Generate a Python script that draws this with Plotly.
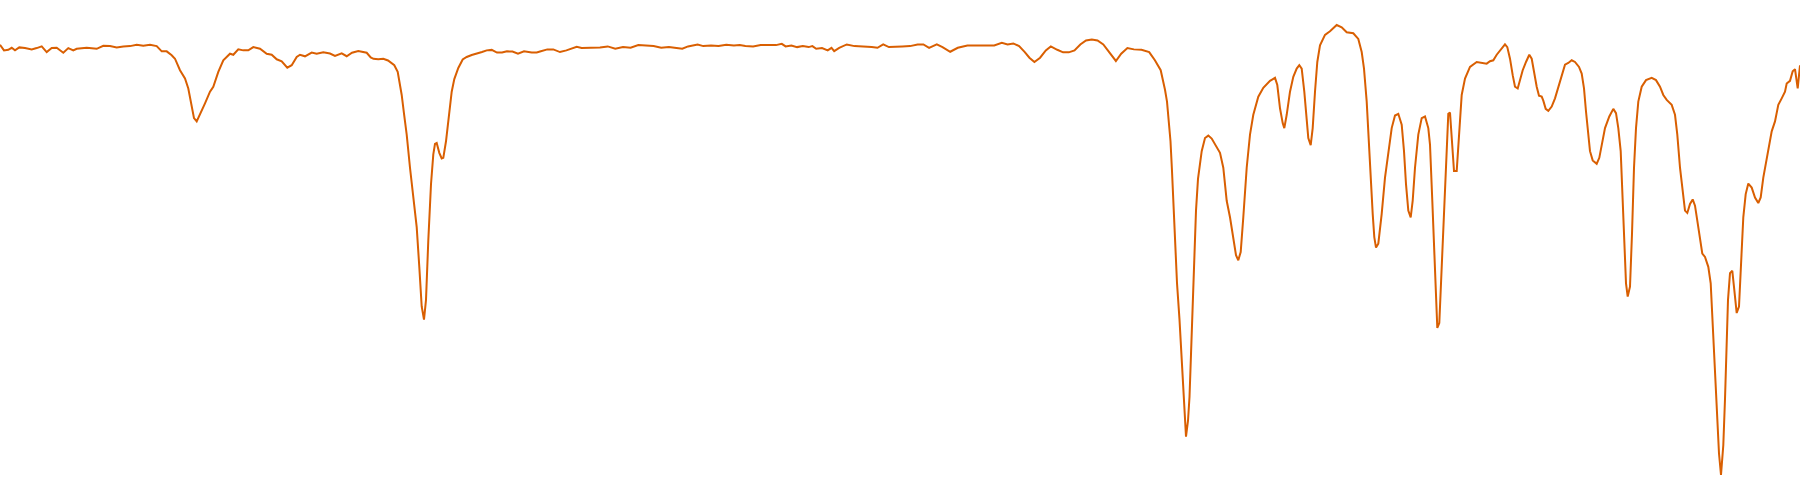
import plotly.graph_objects as go

# Wavenumber (cm^-1) and transmittance (%)
wavenumber = [
    4000, 3992, 3983.4, 3976.6, 3970, 3961.4, 3950, 3936.6, 3926.6, 3916.6,
    3906.6, 3896.6, 3886.6, 3873.4, 3863.4, 3853.4, 3846.6, 3826.6, 3806.6, 3793.4,
    3780, 3766.6, 3753.4, 3740, 3726.6, 3713.4, 3700, 3686.6, 3676.6, 3666.6,
    3656.6, 3650, 3640, 3630, 3623.4, 3616.6, 3612, 3606.6, 3600, 3590,
    3580, 3573.4, 3563.4, 3553.4, 3540, 3533.4, 3523.4, 3513.4, 3503.4, 3493.4,
    3480, 3466.6, 3456.6, 3446.6, 3436.6, 3425.4, 3416.6, 3406.6,
    3400, 3390, 3376.6, 3366.6, 3353.4, 3340, 3330, 3316.6, 3306.6, 3296,
    3283.4, 3266.6, 3258.6, 3253, 3243.4, 3233.4, 3224, 3216, 3211.4, 3204.6,
    3201, 3196.6, 3192, 3186.6, 3180, 3173.4, 3166.6, 3161.4, 3156.6, 3152,
    3148, 3143.4, 3138, 3133.4, 3130, 3126.6, 3121.4, 3116.6, 3113.4, 3108,
    3102, 3096.6, 3091.4, 3083.4, 3074.6, 3066.6, 3056.6, 3046, 3036, 3026.6,
    3016.6, 3006, 2996, 2986, 2975, 2964, 2952, 2936.6, 2926.6, 2920,
    2905.4, 2893.4, 2880, 2867.2, 2858, 2846.6, 2836.6, 2826.6, 2814, 2800,
    2784.6, 2769.4, 2754, 2738.8, 2723.4, 2708.2, 2692.8, 2677.6, 2662.2, 2647,
    2635.4, 2624, 2604.8, 2593.4, 2578, 2562.8, 2547.4, 2532.2, 2520.6, 2509.2,
    2493.8, 2478.6, 2463.2, 2448, 2436.4, 2428.8, 2417.2, 2405.8, 2394.4, 2382.8,
    2375.2, 2367.6, 2356, 2344.6, 2337, 2331.6, 2321.6, 2306.4, 2291, 2271.8,
    2256.6, 2245, 2233.6, 2222.2, 2206.8, 2195.4, 2180, 2164.8, 2153.2, 2141.8,
    2126.4, 2115, 2099.6, 2084.4, 2065.2, 2042.2, 2027, 2011.6, 1996.4, 1984.8,
    1973.4, 1961.8, 1950.4, 1941.2, 1931.2, 1919.8, 1908.4, 1898.4, 1885.4, 1873.8,
    1862.4, 1851, 1839.4, 1828, 1816.4, 1805, 1793.4, 1782, 1768.2, 1757.6,
    1745.2, 1732.2, 1717, 1701.6, 1690.2, 1678.6,
    1674, 1670, 1666, 1662, 1659, 1656, 1653, 1650, 1646, 1641,
    1636, 1632, 1628, 1624, 1621, 1618, 1614, 1611, 1608, 1604, 1600,
    1596.6, 1590, 1583.4, 1576.6, 1570, 1560, 1553.4, 1546.6, 1540, 1533.4,
    1528, 1523.4, 1518.6, 1513.4, 1506.6, 1500, 1493.4, 1483.4, 1473.4, 1460,
    1450, 1445.4, 1440, 1434.6, 1431.4, 1426.6, 1420, 1413.4, 1406.6, 1401.4,
    1396.6, 1391.4, 1386.6, 1383.4, 1378.6, 1374.6, 1370, 1365.4, 1360, 1350,
    1340, 1326.6, 1316.6, 1306.6, 1293.4, 1283.4, 1276.6, 1272, 1266.6, 1260,
    1254.6, 1251.4, 1248, 1243.4, 1236.6, 1230, 1223.4, 1216.6, 1210, 1203.4,
    1196.6, 1192, 1188, 1183.4, 1178.6, 1174.6, 1170, 1163.4, 1156.6, 1150,
    1143.4, 1140, 1135.4, 1130, 1125.4, 1121.4, 1116.6, 1111.4, 1106.6, 1103.4,
    1100, 1096.6, 1092, 1086.6, 1081.4, 1076.6, 1070, 1060, 1046.6, 1033.4,
    1026.6, 1020, 1013.4, 1006.6, 1000,
    994.6, 990, 985.4, 980, 974.6, 970, 964.6, 960, 954.6, 948,
    941.4, 936.6, 931.4, 926.6, 922, 916.6, 913.4, 908.6, 903.4, 896.6,
    890, 883.4, 876.6, 870, 863.4, 856.6, 850, 842, 836.6, 832,
    828, 823.4, 820, 814.6, 806.6, 801.4, 796.6, 790, 781.4, 773.4,
    768, 763.4, 758.6, 754.6, 751.4, 748, 744.6, 740, 736, 732,
    728, 723.4, 716.6, 708, 696.6, 688, 680, 673.4, 666.6, 656.6,
    650, 645.4, 640, 634.6, 630, 625.4, 620, 614.6, 610, 605.4,
    600, 595.4, 590, 583.4, 578.6, 575.4, 571.4, 566.6, 562, 558,
    553.4, 550, 546.6, 544, 540, 535.4, 531.4, 526.6, 522, 518,
    513.4, 508.6, 503.4, 496.6, 490, 483.4, 478.6, 473.4, 468.6, 463.4,
    456.6, 450, 443.4, 436.6, 430, 426.6, 420, 414.6, 410, 404.6, 400,
]

transmittance = [
    91.46, 90.34, 90.46, 90.86, 90.34, 90.94, 90.8, 90.54, 90.8, 91.14,
    90.0, 90.8, 90.86, 89.86, 90.8, 90.34, 90.66, 90.86, 90.66, 91.26,
    91.2, 90.94, 91.14, 91.2, 91.46, 91.26, 91.46, 91.2, 90.14, 90.14,
    89.34, 88.66, 86.34, 84.66, 82.66, 79.34, 76.66, 76.0, 77.34, 79.66,
    82.0, 83.0, 86.0, 88.34, 89.66, 89.46, 90.54, 90.34, 90.34, 91.0,
    90.66, 89.66, 89.46, 88.54, 88.14, 86.86, 87.34, 89.0,
    89.46, 89.14, 89.9, 89.66, 89.94, 89.7, 89.2, 89.74, 89.16, 89.86,
    90.2, 89.86, 88.9, 88.64, 88.54, 88.66, 88.3, 87.7, 87.34, 86.0,
    84.0, 81.34, 77.6, 73.34, 66.66, 60.66, 54.66, 46.66, 38.66, 36.0,
    40.0, 52.0, 63.34, 69.34, 71.46, 71.66, 69.66, 68.54, 68.66, 72.0,
    78.0, 82.0, 84.54, 86.8, 88.5, 89.0, 89.4, 89.66, 90.0, 90.34,
    90.44, 89.9, 89.9, 90.14, 90.1, 89.66, 90.14, 89.9, 89.9, 90.1,
    90.54, 90.54, 90.0, 90.34, 90.7, 91.06, 90.8, 90.84, 90.86, 90.9,
    91.14, 90.66, 91.0, 90.86, 91.4, 91.26, 91.2, 90.86, 91.0, 90.8,
    90.66, 91.14, 91.54, 91.2, 91.34, 91.2, 91.46, 91.34, 91.4, 91.2,
    91.14, 91.4, 91.4, 91.4, 91.66, 91.14, 91.34, 91.0, 91.2, 91.0,
    91.2, 90.66, 90.8, 90.34, 90.86, 90.2, 90.86, 91.54, 91.2, 91.14,
    91.0, 90.86, 91.54, 91.0, 91.14, 91.14, 91.2, 91.54, 91.54, 90.86,
    91.54, 91.0, 90.06, 90.86, 91.34, 91.34, 91.46, 91.34, 91.86, 91.54,
    91.74, 91.2, 90.0, 88.86, 88.0, 88.86, 90.34, 91.14, 90.46, 89.94,
    89.94, 90.34, 91.54, 92.34, 92.54, 92.34, 91.54, 90.0, 88.2, 89.66,
    90.8, 90.54, 90.46, 90.0, 88.34, 86.34,
    84.4, 82.4, 80.0, 76.0, 72.0, 66.0, 59.0, 52.0, 43.4, 36.0,
    26.6, 18.0, 12.4, 15.6, 20.4, 29.0, 40.0, 49.0, 58.0, 64.4, 68.0,
    70.0, 72.66, 73.14, 72.54, 71.46, 69.66, 66.66, 60.0, 56.66, 52.0,
    49.0, 48.0, 49.66, 56.66, 66.66, 73.34, 77.34, 81.0, 82.8, 84.2,
    84.8, 83.34, 78.66, 75.66, 74.66, 77.34, 82.0, 85.0, 86.66, 87.34,
    86.66, 82.0, 76.66, 72.66, 71.2, 74.66, 82.0, 88.0, 91.34, 93.46,
    94.2, 95.46, 95.0, 94.0, 93.8, 92.66, 90.0, 86.66, 80.0, 66.66,
    57.34, 52.66, 50.54, 51.34, 57.34, 64.66, 70.0, 74.66, 77.2, 77.54,
    75.34, 70.0, 63.34, 58.0, 56.66, 60.0, 66.66, 73.34, 76.66, 77.0,
    74.66, 71.34, 60.0, 46.66, 34.34, 35.34, 46.66, 60.0, 73.34, 77.54,
    77.8, 73.34, 66.0, 66.0, 73.34, 81.34, 84.66, 87.0, 88.0, 87.8,
    87.66, 88.14, 88.34, 89.46, 90.2,
    90.86, 91.54, 91.0, 88.66, 85.34, 83.0, 82.66, 84.34, 86.34, 88.0,
    89.46, 88.66, 85.66, 83.0, 81.2, 81.0, 80.2, 78.54, 78.14, 79.0,
    80.66, 83.0, 85.0, 87.46, 87.8, 88.34, 88.0, 87.0, 85.66, 82.66,
    78.0, 73.34, 70.0, 68.14, 67.46, 68.66, 71.34, 74.66, 77.0, 78.54,
    77.66, 74.66, 70.0, 60.0, 52.0, 43.34, 40.66, 42.66, 53.34, 66.66,
    74.66, 80.0, 83.0, 84.34, 84.8, 84.34, 83.0, 81.34, 80.34, 79.34,
    77.34, 73.34, 66.66, 61.34, 58.0, 57.54, 59.34, 60.26, 59.0, 56.0,
    52.0, 49.34, 48.66, 46.66, 43.34, 36.66, 26.66, 16.66, 9.0, 4.66,
    10.66, 20.0, 33.4, 40.0, 45.4, 45.86, 42.0, 37.34, 38.66, 46.66,
    56.66, 61.34, 63.46, 62.66, 60.66, 59.54, 60.66, 64.66, 67.34, 70.0,
    74.0, 76.0, 79.34, 80.66, 82.0, 83.66, 84.2, 86.14, 86.54, 82.66, 87.34,
]

fig = go.Figure(
    go.Scatter(
        x=wavenumber,
        y=transmittance,
        mode="lines",
        line=dict(color="#d95f02", width=2),
        hoverinfo="skip",
    )
)

fig.update_layout(
    width=1800,
    height=500,
    margin=dict(l=0, r=0, t=0, b=0),
    paper_bgcolor="white",
    plot_bgcolor="white",
    showlegend=False,
)
fig.update_xaxes(autorange="reversed", visible=False)
fig.update_yaxes(visible=False)

fig.write_html(
    "out.html",
    config={"displayModeBar": False},
    post_script="document.body.style.margin='0';",
)
